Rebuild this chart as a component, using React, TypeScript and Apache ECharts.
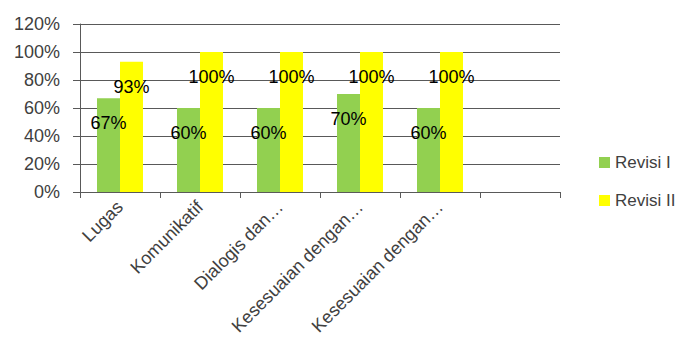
import React, { useEffect, useRef } from "react";
import * as echarts from "echarts";

const categories = [
  "Lugas",
  "Komunikatif",
  "Dialogis dan…",
  "Kesesuaian dengan…",
  "Kesesuaian dengan…",
  "",
];
const revisiI = [67, 60, 60, 70, 60, null];
const revisiII = [93, 100, 100, 100, 100, null];
const yTicks = { min: 0, max: 120, interval: 20 };

const FONT = "Liberation Sans";

export default function App() {
  const ref = useRef<HTMLDivElement>(null);
  useEffect(() => {
    const chart = echarts.init(ref.current!, null, { renderer: "svg" });
    const label = {
      show: true,
      position: "insideTop",
      distance: 16,
      color: "#000",
      fontSize: 18,
      fontFamily: FONT,
      formatter: (p: any) => `${p.value}%`,
    };
    chart.setOption({
      animation: false,
      textStyle: { fontFamily: FONT },
      grid: {
        left: 80,
        right: 119,
        top: 24,
        bottom: 147,
        containLabel: false,
        outerBoundsMode: "none",
      },
      legend: {
        orient: "vertical",
        left: 594,
        top: 149,
        itemWidth: 11,
        itemHeight: 11,
        itemGap: 21,
        icon: "rect",
        textStyle: { fontSize: 17, color: "#404040", fontFamily: FONT },
        data: ["Revisi I", "Revisi II"],
      },
      xAxis: {
        type: "category",
        data: categories,
        axisLine: { lineStyle: { color: "#595959", width: 1 } },
        axisTick: { show: true, length: 6, lineStyle: { color: "#595959" } },
        axisLabel: {
          rotate: 45,
          margin: 12,
          fontSize: 18,
          color: "#404040",
          fontFamily: FONT,
          interval: 0,
        },
      },
      yAxis: {
        type: "value",
        min: yTicks.min,
        max: yTicks.max,
        interval: yTicks.interval,
        axisLine: { show: true, lineStyle: { color: "#595959", width: 1 } },
        axisTick: { show: true, length: 7, lineStyle: { color: "#595959" } },
        splitLine: { lineStyle: { color: "#595959", width: 1 } },
        axisLabel: {
          formatter: "{value}%",
          fontSize: 18,
          color: "#404040",
          fontFamily: FONT,
          margin: 20,
        },
      },
      series: [
        {
          name: "Revisi I",
          type: "bar",
          data: revisiI,
          itemStyle: { color: "#92D050" },
          barGap: "0%",
          barCategoryGap: "42.5%",
          label,
        },
        {
          name: "Revisi II",
          type: "bar",
          data: revisiII,
          itemStyle: { color: "#FFFF00" },
          barGap: "0%",
          barCategoryGap: "42.5%",
          label,
        },
      ],
    });
    return () => chart.dispose();
  }, []);
  return (
    <div
      ref={ref}
      style={{ position: "absolute", left: 0, top: 0, width: 679, height: 339 }}
    />
  );
}
